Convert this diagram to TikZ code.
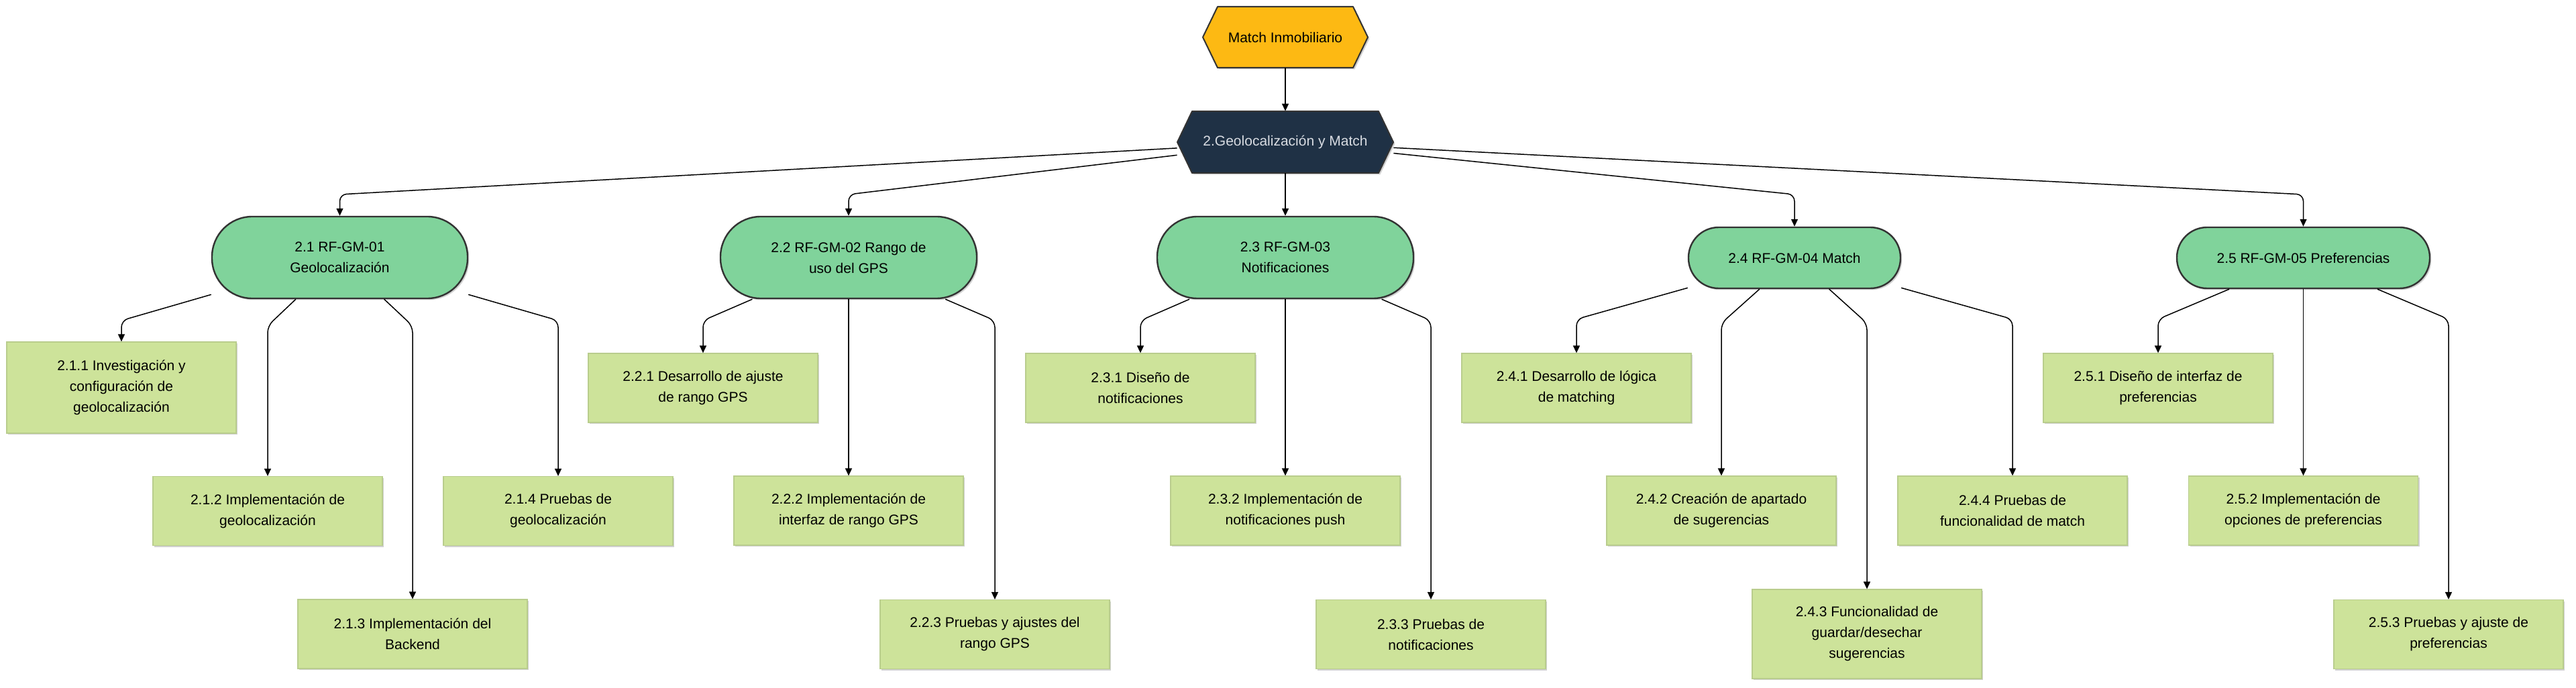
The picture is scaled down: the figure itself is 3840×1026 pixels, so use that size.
\documentclass[tikz,border=0pt]{standalone}
\usepackage{fontspec}
\setmainfont{Liberation Sans}
\usetikzlibrary{arrows.meta,shadows}
\definecolor{gold}{HTML}{FDB913}
\definecolor{navy}{HTML}{1F3145}
\definecolor{navytext}{HTML}{D8DCE2}
\definecolor{mint}{HTML}{80D39B}
\definecolor{lime}{HTML}{CDE39A}
\definecolor{limeline}{HTML}{B9CD8D}
\definecolor{edgegray}{HTML}{333333}
\begin{document}
\begin{tikzpicture}[x=0.5pt,y=-0.5pt,
  txt/.style={font=\fontsize{10.5}{15.5}\selectfont, align=center, inner sep=0pt},
  softshadow/.style={drop shadow={shadow xshift=1.2pt, shadow yshift=-1.2pt, opacity=0.18, fill=black}},
  hexshape/.style={draw=edgegray, line width=1pt, line join=round, softshadow},
  hexlabel/.style={txt, rectangle},
  stad/.style={txt, rectangle, fill=mint, draw=edgegray, line width=1.2pt, softshadow},
  stadtwo/.style={stad, minimum height=61pt, rounded corners=30pt},
  stadone/.style={stad, minimum height=45.5pt, rounded corners=22.5pt},
  wbox/.style={txt, rectangle, fill=lime, draw=limeline, line width=0.6pt, minimum width=171pt, minimum height=51.5pt, softshadow},
  conn/.style={draw=black, line width=0.75pt, rounded corners=5pt, -{Triangle[length=5.5pt,width=5pt]}}
]
\useasboundingbox[fill=white] (0,0) rectangle (3840,1026);

% hexagons
\path[hexshape, fill=gold] (1793,55.5) -- (1815,10) -- (2017,10) -- (2039,55.5) -- (2017,101) -- (1815,101) -- cycle;
\path[hexshape, fill=navy] (1755,212) -- (1777,166) -- (2055,166) -- (2077,212) -- (2055,258) -- (1777,258) -- cycle;
\node[hexlabel, minimum width=123pt, minimum height=45.5pt] (match) at (1916,55.5) {Match Inmobiliario};
\node[hexlabel, text=navytext, minimum width=161pt, minimum height=46pt] (geo) at (1916,212) {2.Geolocalización y Match};

% level 2
\node[stadtwo, minimum width=190.5pt] (n21) at (506.5,384) {2.1 RF-GM-01\\Geolocalización};
\node[stadtwo, minimum width=191pt] (n22) at (1265,384) {2.2 RF-GM-02 Rango de\\uso del GPS};
\node[stadtwo, minimum width=191pt] (n23) at (1916,384) {2.3 RF-GM-03\\Notificaciones};
\node[stadone, minimum width=158pt] (n24) at (2675,384.5) {2.4 RF-GM-04 Match};
\node[stadone, minimum width=188.5pt] (n25) at (3433.5,384.5) {2.5 RF-GM-05 Preferencias};

% level 3
\node[wbox, minimum height=68pt] (n211) at (181,578) {2.1.1 Investigación y\\configuración de\\geolocalización};
\node[wbox] (n212) at (399,762) {2.1.2 Implementación de\\geolocalización};
\node[wbox] (n213) at (615,945.5) {2.1.3 Implementación del\\Backend};
\node[wbox] (n214) at (832,762) {2.1.4 Pruebas de\\geolocalización};
\node[wbox] (n221) at (1048,578.5) {2.2.1 Desarrollo de ajuste\\de rango GPS};
\node[wbox] (n222) at (1265,761.5) {2.2.2 Implementación de\\interfaz de rango GPS};
\node[wbox] (n223) at (1483,946) {2.2.3 Pruebas y ajustes del\\rango GPS};
\node[wbox] (n231) at (1700,578.5) {2.3.1 Diseño de\\notificaciones};
\node[wbox] (n232) at (1916,761.5) {2.3.2 Implementación de\\notificaciones push};
\node[wbox] (n233) at (2133,946) {2.3.3 Pruebas de\\notificaciones};
\node[wbox] (n241) at (2350,578.5) {2.4.1 Desarrollo de lógica\\de matching};
\node[wbox] (n242) at (2566,761.5) {2.4.2 Creación de apartado\\de sugerencias};
\node[wbox, minimum height=66.5pt] (n243) at (2783,945.5) {2.4.3 Funcionalidad de\\guardar/desechar\\sugerencias};
\node[wbox] (n244) at (3000,761.5) {2.4.4 Pruebas de\\funcionalidad de match};
\node[wbox] (n251) at (3217,578.5) {2.5.1 Diseño de interfaz de\\preferencias};
\node[wbox] (n252) at (3433.5,761.5) {2.5.2 Implementación de\\opciones de preferencias};
\node[wbox] (n253) at (3650,946) {2.5.3 Pruebas y ajuste de\\preferencias};

% bend points
\coordinate (b21) at (506.5,290);
\coordinate (b22) at (1265,290);
\coordinate (b24) at (2675,290);
\coordinate (b25) at (3433.5,290);
\coordinate (c211) at (181,478);
\coordinate (c212) at (399,486);
\coordinate (c213) at (615,486);
\coordinate (c214) at (832,478);
\coordinate (c221) at (1048,478);
\coordinate (c223) at (1483,478);
\coordinate (c231) at (1700,478);
\coordinate (c233) at (2133,478);
\coordinate (c241) at (2350,476);
\coordinate (c242) at (2566,482);
\coordinate (c243) at (2783,482);
\coordinate (c244) at (3000,476);
\coordinate (c251) at (3217,476);
\coordinate (c253) at (3650,476);

% connectors
\draw[conn] (match) -- (geo);
\draw[conn] (geo) -- (b21) -- (n21);
\draw[conn] (geo) -- (b22) -- (n22);
\draw[conn] (geo) -- (n23);
\draw[conn] (geo) -- (b24) -- (n24);
\draw[conn] (geo) -- (b25) -- (n25);

\draw[conn] (n21) -- (c211) -- (n211);
\draw[conn] (n21) -- (c212) -- (n212);
\draw[conn] (n21) -- (c213) -- (n213);
\draw[conn] (n21) -- (c214) -- (n214);

\draw[conn] (n22) -- (c221) -- (n221);
\draw[conn] (n22) -- (n222);
\draw[conn] (n22) -- (c223) -- (n223);

\draw[conn] (n23) -- (c231) -- (n231);
\draw[conn] (n23) -- (n232);
\draw[conn] (n23) -- (c233) -- (n233);

\draw[conn] (n24) -- (c241) -- (n241);
\draw[conn] (n24) -- (c242) -- (n242);
\draw[conn] (n24) -- (c243) -- (n243);
\draw[conn] (n24) -- (c244) -- (n244);

\draw[conn] (n25) -- (c251) -- (n251);
\draw[conn] (n25) -- (n252);
\draw[conn] (n25) -- (c253) -- (n253);
\end{tikzpicture}
\end{document}
